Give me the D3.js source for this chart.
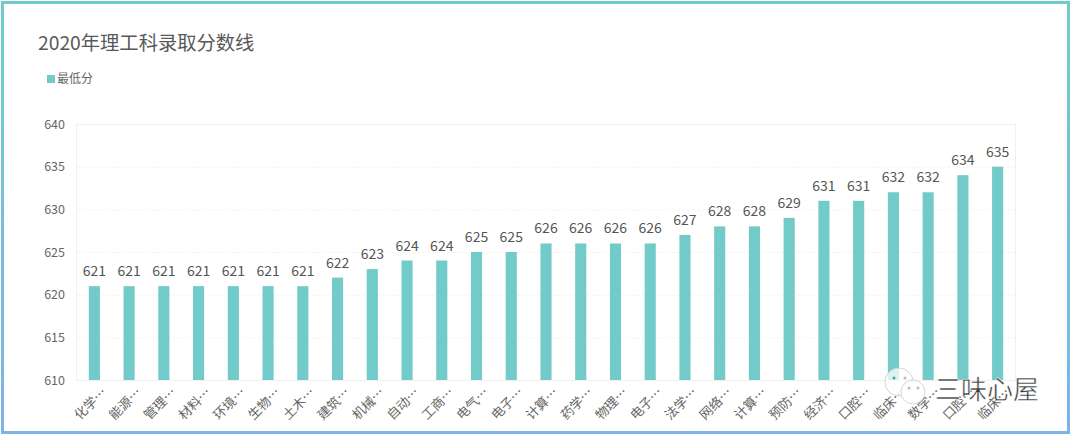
<!DOCTYPE html>
<html><head><meta charset="utf-8">
<script src="https://cdn.jsdelivr.net/npm/d3@7/dist/d3.min.js"></script>
<style>html,body{margin:0;padding:0;background:#fff;overflow:hidden}svg{display:block}
text{font-family:"Noto Sans CJK SC","Noto Sans",sans-serif}</style></head>
<body><svg id="c" width="1071" height="435"></svg>
<script>
const chartTitle = "2020年理工科录取分数线";
const seriesName = "最低分";
const categories = ["化学…","能源…","管理…","材料…","环境…","生物…","土木…","建筑…","机械…","自动…","工商…","电气…","电子…","计算…","药学…","物理…","电子…","法学…","网络…","计算…","预防…","经济…","口腔…","临床…","数学…","口腔…","临床…"];
const catIds = categories.map((d,i)=>i);
const values = [621,621,621,621,621,621,621,622,623,624,624,625,625,626,626,626,626,627,628,628,629,631,631,632,632,634,635];
const yTicks = [610,615,620,625,630,635,640];
const watermark = "三味心屋";

const svg = d3.select("#c");
const W=1071,H=435, m={l:77,r:1015,t:124,b:380};
const grad = svg.append("defs").append("linearGradient").attr("id","bd").attr("x1",0).attr("y1",0).attr("x2",0).attr("y2",1);
grad.append("stop").attr("offset","0%").attr("stop-color","#72cbc9");
grad.append("stop").attr("offset","100%").attr("stop-color","#7db3e8");
svg.append("rect").attr("x",2.5).attr("y",2.5).attr("width",W-5).attr("height",H-5).attr("fill","#fff").attr("stroke","url(#bd)").attr("stroke-width",3);

const x = d3.scaleBand().domain(catIds).range([m.l,m.r]).paddingInner(0.68).paddingOuter(0.34);
const y = d3.scaleLinear().domain([610,640]).range([m.b,m.t]);
const labelColor = "#666";

svg.append("text").attr("x",38).attr("y",50).attr("font-size",19.3).attr("fill","#595959").text(chartTitle);
svg.append("rect").attr("x",47).attr("y",75).attr("width",8).attr("height",8).attr("fill","#72cbc9");
svg.append("text").attr("x",57).attr("y",83).attr("font-size",12).attr("fill",labelColor).text(seriesName);

// grid + frame
const grid = svg.append("g");
grid.selectAll("line").data(yTicks.filter(d=>d>610&&d<640)).join("line")
  .attr("x1",m.l).attr("x2",m.r).attr("y1",d=>y(d)+.5).attr("y2",d=>y(d)+.5)
  .attr("stroke","#f3f3f3").attr("stroke-dasharray","3,2");
svg.append("rect").attr("x",m.l-.5).attr("y",m.t+.5).attr("width",m.r-m.l+1).attr("height",m.b-m.t)
  .attr("fill","none").attr("stroke","#f0f0f0");

const yAxis = d3.axisLeft(y).tickValues(yTicks).tickSize(0).tickPadding(12);
const gy = svg.append("g").attr("transform",`translate(${m.l},0)`).call(yAxis);
gy.select(".domain").remove();
gy.selectAll("text").attr("font-size",12.5).attr("fill",labelColor);

svg.append("g").selectAll("rect").data(values).join("rect")
  .attr("x",(d,i)=>x(i)).attr("width",x.bandwidth())
  .attr("y",d=>y(d)).attr("height",d=>y(610)-y(d)).attr("fill","#72cbc9");

svg.append("g").selectAll("text").data(values).join("text")
  .attr("x",(d,i)=>x(i)+x.bandwidth()/2).attr("y",d=>y(d)-10)
  .attr("text-anchor","middle").attr("font-size",14).attr("fill","#555").text(d=>d);

const xAxis = d3.axisBottom(x).tickSize(0).tickFormat(i=>categories[i]);
const gx = svg.append("g").attr("transform",`translate(0,${m.b})`).call(xAxis);
gx.select(".domain").remove();
gx.selectAll("text").attr("font-size",13).attr("fill",labelColor)
  .attr("text-anchor","end").attr("dx",0).attr("dy",0).attr("y",0).attr("x",0)
  .attr("transform","translate(13,13) rotate(-45)");

// watermark
const wm = svg.append("g");
[[899,382,14,"rgba(255,255,255,.75)"],[913,392,12,"rgba(255,255,255,.9)"]].forEach(c=>{
  wm.append("circle").attr("cx",c[0]).attr("cy",c[1]).attr("r",c[2]).attr("fill",c[3]).attr("stroke","#d4d4d4");
});
[[894,378,"#4aa6a4"],[905,378,"#bbb"],[909,388,"#bbb"],[918,388,"#bbb"]].forEach(c=>{
  wm.append("circle").attr("cx",c[0]).attr("cy",c[1]).attr("r",1.5).attr("fill",c[2]);
});
wm.append("text").attr("x",935).attr("y",399).attr("font-size",26)
  .attr("fill","#3a3a3a").attr("stroke","#fff").attr("stroke-width",.5).text(watermark);
</script></body></html>
